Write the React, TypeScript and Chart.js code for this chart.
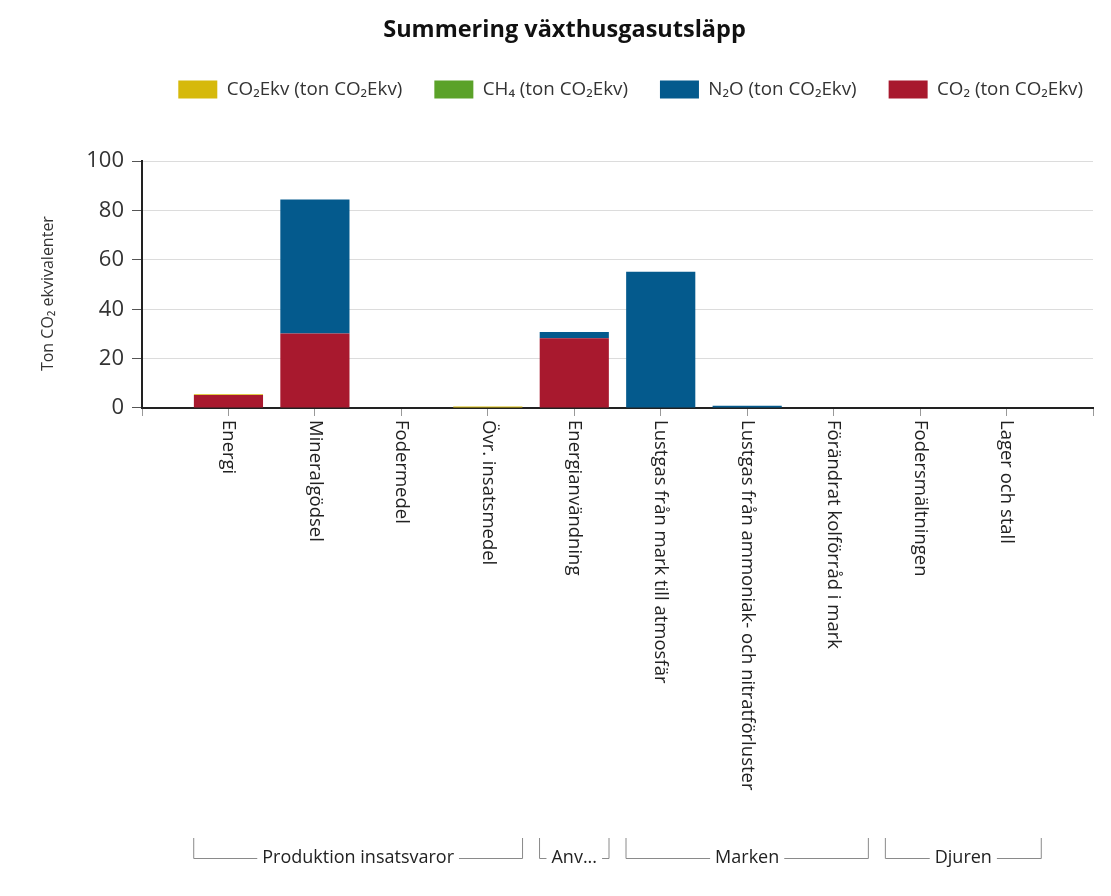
import React, { useEffect, useRef } from "react";
import { Chart, registerables } from "chart.js";

Chart.register(...registerables);

const TITLE = "Summering växthusgasutsläpp";
const Y_TITLE = "Ton CO₂ ekvivalenter";

const categories = [
  "Energi",
  "Mineralgödsel",
  "Fodermedel",
  "Övr. insatsmedel",
  "Energianvändning",
  "Lustgas från mark till atmosfär",
  "Lustgas från ammoniak- och nitratförluster",
  "Förändrat kolförråd i mark",
  "Fodersmältningen",
  "Lager och stall",
];

const co2 = [5.3, 30.2, 0, 0, 28.3, 0, 0, 0, 0, 0];
const n2o = [0, 54.3, 0, 0, 2.5, 55.2, 0.9, 0, 0, 0];
const ch4 = [0, 0, 0, 0, 0, 0, 0, 0, 0, 0];
const co2ekv = [0.3, 0, 0, 0.6, 0, 0, 0, 0, 0, 0];

const seriesNames = [
  "CO₂ (ton CO₂Ekv)",
  "N₂O (ton CO₂Ekv)",
  "CH₄ (ton CO₂Ekv)",
  "CO₂Ekv (ton CO₂Ekv)",
];
const seriesColors = ["#A8192E", "#045A8D", "#5BA229", "#D6B90B"];

const groupNames = ["Produktion insatsvaror", "Anv...", "Marken", "Djuren"];
const groupStarts = [0, 4, 5, 8];
const groupEnds = [3, 4, 7, 9];

const yTicks = [0, 20, 40, 60, 80, 100];

const FONT = "'Open Sans', 'Noto Sans', sans-serif";

export default function App() {
  const ref = useRef<HTMLCanvasElement | null>(null);

  useEffect(() => {
    if (!ref.current) return;
    const labels = ["", ...categories, ""];
    const pad = (arr: number[]) => [null, ...arr, null];
    const allSeries = [co2, n2o, ch4, co2ekv];

    const labelPlugin = {
      id: "customLabels",
      beforeLayout(chart: any) {
        const lg = chart.legend;
        if (lg && !lg.__patched) {
          const orig = lg.fit;
          lg.fit = function () {
            orig.call(this);
            this.height = 113;
          };
          lg.__patched = true;
        }
      },
      afterLayout(chart: any) {
        const lg = chart.legend;
        if (lg) {
          lg.left += 22;
          lg.right += 22;
        }
      },
      afterDraw(chart: any) {
        const ctx = chart.ctx;
        const xs = chart.scales.x;
        const area = chart.chartArea;
        ctx.save();
        // y axis title
        ctx.fillStyle = "#333";
        ctx.font = `16px ${FONT}`;
        ctx.textAlign = "center";
        ctx.textBaseline = "middle";
        ctx.save();
        ctx.translate(40, (area.top + area.bottom) / 2 + 9);
        ctx.rotate(-Math.PI / 2);
        ctx.fillText(Y_TITLE, 0, 0);
        ctx.restore();
        // rotated category labels
        ctx.fillStyle = "#222";
        ctx.font = `18.5px ${FONT}`;
        ctx.textAlign = "left";
        ctx.textBaseline = "middle";
        categories.forEach((c, i) => {
          const x = xs.getPixelForValue(i + 1);
          ctx.save();
          ctx.translate(x, area.bottom + 12);
          ctx.rotate(Math.PI / 2);
          ctx.fillText(c, 0, 0);
          ctx.restore();
        });
        // group brackets
        ctx.font = `18px ${FONT}`;
        const half = (xs.getPixelForValue(1) - xs.getPixelForValue(0)) / 2;
        const yLine = 850;
        const yTop = 830;
        ctx.strokeStyle = "#8a8a8a";
        ctx.lineWidth = 1;
        ctx.textAlign = "center";
        groupNames.forEach((g, k) => {
          const x0 = xs.getPixelForValue(groupStarts[k] + 1) - half + 8;
          const x1 = xs.getPixelForValue(groupEnds[k] + 1) + half - 8;
          const cx = (x0 + x1) / 2;
          const tw = ctx.measureText(g).width;
          const l = cx - tw / 2 - 5;
          const r = cx + tw / 2 + 5;
          ctx.beginPath();
          ctx.moveTo(x0 + 0.5, yTop);
          ctx.lineTo(x0 + 0.5, yLine + 0.5);
          if (l > x0) ctx.lineTo(l, yLine + 0.5);
          ctx.moveTo(x1 - 0.5, yTop);
          ctx.lineTo(x1 - 0.5, yLine + 0.5);
          if (r < x1) ctx.lineTo(r, yLine + 0.5);
          ctx.stroke();
          ctx.fillText(g, cx, yLine);
        });
        ctx.restore();
      },
    };

    const chart = new Chart(ref.current, {
      type: "bar",
      data: {
        labels,
        datasets: allSeries.map((s, i) => ({
          label: seriesNames[i],
          data: pad(s) as any,
          backgroundColor: seriesColors[i],
          borderWidth: 0,
          categoryPercentage: 0.8,
          barPercentage: 1,
        })),
      },
      options: {
        animation: false,
        responsive: false,
        maintainAspectRatio: false,
        layout: { padding: { left: 28, right: 10, top: 0, bottom: 0 } },
        plugins: {
          title: {
            display: true,
            text: TITLE,
            color: "#111",
            font: { family: FONT, size: 23.5, weight: "bold" },
            padding: { top: 8, bottom: 4 },
          },
          legend: {
            position: "top",
            align: "end",
            reverse: true,
            labels: {
              boxWidth: 39,
              boxHeight: 18,
              padding: 32,
              color: "#333",
              font: { family: FONT, size: 18.8 },
            },
          },
          tooltip: { enabled: false },
        },
        scales: {
          x: {
            stacked: true,
            offset: false,
            afterFit(scale: any) {
              scale.height = 480;
            },
            grid: {
              offset: false,
              drawOnChartArea: false,
              drawTicks: true,
              tickLength: 8,
              tickColor: "#999",
            },
            border: { color: "#222", width: 2 },
            ticks: {
              autoSkip: false,
              maxRotation: 0,
              callback: () => "",
            },
          },
          y: {
            stacked: true,
            min: 0,
            max: 100,
            afterFit(scale: any) {
              scale.width = 106;
            },
            afterBuildTicks(scale: any) {
              scale.ticks = yTicks.map((v) => ({ value: v }));
            },
            grid: {
              color: "#dcdcdc",
              tickColor: "#555",
              tickLength: 10,
            },
            border: { color: "#222", width: 2 },
            ticks: {
              color: "#333",
              padding: 8,
              font: { family: FONT, size: 22 },
            },
            title: { display: false },
          },
        },
      },
      plugins: [labelPlugin],
    });
    return () => chart.destroy();
  }, []);

  return (
    <div style={{ width: 1095, height: 880 }}>
      <canvas ref={ref} width={1095} height={880} style={{ width: 1095, height: 880 }} />
    </div>
  );
}
